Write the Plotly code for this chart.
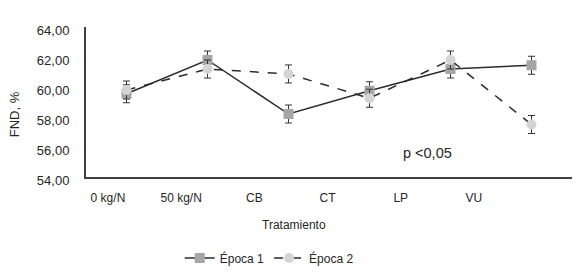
import plotly.graph_objects as go

categorias = ["0 kg/N", "50 kg/N", "CB", "CT", "LP", "VU"]
epoca1 = [59.55, 61.8, 58.2, 59.75, 61.2, 61.45]
epoca2 = [59.8, 61.2, 60.87, 59.25, 61.8, 57.5]
error1 = [0.6, 0.6, 0.6, 0.6, 0.6, 0.6]
error2 = [0.6, 0.6, 0.6, 0.6, 0.6, 0.6]
y_ticks = [54, 56, 58, 60, 62, 64]

FONT = "Liberation Sans, Arial, sans-serif"
TXT = "#262626"

fig = go.Figure()
fig.add_trace(go.Scatter(
    x=categorias, y=epoca1, name="Época 1", mode="lines+markers",
    line=dict(color="#2b2b2b", width=1.5),
    marker=dict(symbol="square", size=10, color="#a6a6a6"),
    error_y=dict(type="data", array=error1, visible=True, color="#333333", thickness=1, width=3.5),
))
fig.add_trace(go.Scatter(
    x=categorias, y=epoca2, name="Época 2", mode="lines+markers",
    line=dict(color="#2b2b2b", width=1.5, dash="dash"),
    marker=dict(symbol="circle", size=10, color="#d4d4d4"),
    error_y=dict(type="data", array=error2, visible=True, color="#333333", thickness=1, width=3.5),
))
# carrier trace so the label axis (x2) is drawn; it has no visible points
fig.add_trace(go.Scatter(
    x=list(range(len(categorias))), y=[None] * len(categorias), xaxis="x2", yaxis="y",
    mode="markers", showlegend=False, hoverinfo="skip",
))

fig.add_annotation(x=3.72, y=55.6, xref="x", yref="y", text="p <0,05", showarrow=False,
                   font=dict(size=14.5, color=TXT, family=FONT))
fig.add_annotation(x=0.428, y=-0.32, xref="paper", yref="paper", text="Tratamiento", showarrow=False,
                   font=dict(size=12, color=TXT, family=FONT), yanchor="middle")
fig.add_annotation(x=-0.147, y=0.415, xref="paper", yref="paper", text="FND, %", showarrow=False,
                   textangle=-90, font=dict(size=13, color=TXT, family=FONT), xanchor="center",
                   yanchor="middle")

fig.update_layout(
    template="none",
    width=573, height=270,
    margin=dict(l=78, r=9, t=19, b=101, autoexpand=False),
    paper_bgcolor="white", plot_bgcolor="white",
    separators=",.",
    font=dict(family=FONT, size=12, color=TXT),
    showlegend=True,
    legend=dict(orientation="h", x=0.377, xanchor="center", y=-0.54, yanchor="middle",
                font=dict(size=12, color=TXT), tracegroupgap=0, bgcolor="rgba(0,0,0,0)"),
    xaxis=dict(type="category", range=[-0.5, 5.5], showline=True, linecolor="#404040", linewidth=2,
               showgrid=False, zeroline=False, showticklabels=False, ticks="", automargin=False),
    xaxis2=dict(overlaying="x", anchor="y", side="bottom", range=[-0.30, 6.34],
                tickmode="array", tickvals=list(range(len(categorias))), ticktext=categorias,
                showline=False, showgrid=False, zeroline=False, ticks="outside", ticklen=10,
                tickcolor="rgba(0,0,0,0)", tickfont=dict(size=12, color=TXT), automargin=False),
    yaxis=dict(range=[54, 64], tickvals=y_ticks, tickformat=".2f", showline=True, linecolor="#404040",
               linewidth=2, showgrid=False, zeroline=False, ticks="outside", ticklen=12,
               tickcolor="rgba(0,0,0,0)", tickfont=dict(size=13, color=TXT), ticklabelshift=3,
               automargin=False),
)

fig.write_html("out.html")
